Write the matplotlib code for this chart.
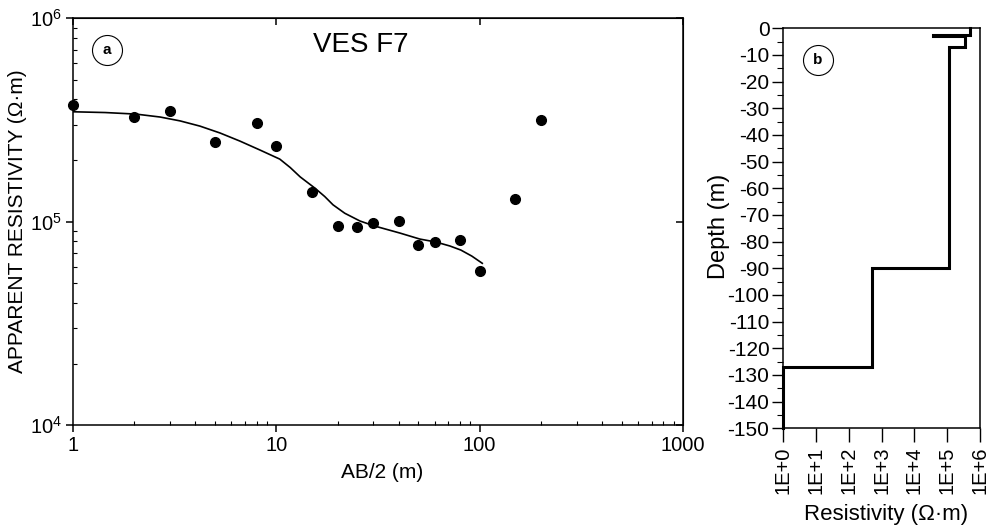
import matplotlib
matplotlib.use("Agg")
import matplotlib.pyplot as plt
import numpy as np
from matplotlib.ticker import LogLocator, FixedLocator, NullFormatter, MultipleLocator, FixedFormatter, NullLocator

plt.rcParams['font.family'] = ['Liberation Sans', 'DejaVu Sans']
plt.rcParams['mathtext.fontset'] = 'custom'
plt.rcParams['mathtext.rm'] = 'Liberation Sans'
plt.rcParams['mathtext.it'] = 'Liberation Sans:italic'
plt.rcParams['mathtext.bf'] = 'Liberation Sans:bold'
plt.rcParams['mathtext.default'] = 'regular'
plt.rcParams['axes.unicode_minus'] = False

# ---- Panel a: VES F7 sounding data ----
ab2 = [1, 2, 3, 5, 8, 10, 15, 20, 25, 30, 40, 50, 60, 80, 100, 150, 200]
rho_app = [374e3, 326e3, 350e3, 247e3, 307e3, 236e3, 140e3, 95.4e3, 94.4e3, 98.8e3,
           100.7e3, 76.9e3, 79.1e3, 81.2e3, 56.9e3, 129.7e3, 316e3]

# model (fitted) curve
curve_ab2 = [1, 1.44, 2.04, 2.68, 3.36, 4.21, 5.28, 6.62, 8.31, 10.4, 11.7, 13.1, 15.5,
             17.3, 19, 21.7, 25.8, 30.5, 40.5, 50.8, 60.9, 71.4, 80.8, 91.5, 103]
curve_rho = [347e3, 344e3, 338e3, 327e3, 313e3, 295e3, 273e3, 249e3, 225e3, 203e3,
             184.6e3, 166e3, 146e3, 132.9e3, 121e3, 110e3, 100.7e3, 95.1e3, 87.9e3,
             82.1e3, 79.4e3, 75.9e3, 72.5e3, 67.7e3, 62.4e3]

x_ticks_a = [1, 10, 100, 1000]
x_ticklabels_a = ["1", "10", "100", "1000"]
y_ticks_a = [1e4, 1e5, 1e6]
y_ticklabels_a = ["$10^4$", "$10^5$", "$10^6$"]

# ---- Panel b: layered model ----
layer_top = [0, 2.6, 2.9, 6.9, 90, 127]
layer_bottom = [2.6, 2.9, 6.9, 90, 127, 150]
layer_rho = [480e3, 38e3, 355e3, 113e3, 525, 1]

x_ticks_b = [1, 1e1, 1e2, 1e3, 1e4, 1e5, 1e6]
x_ticklabels_b = ["1E+0", "1E+1", "1E+2", "1E+3", "1E+4", "1E+5", "1E+6"]
y_ticks_b = list(range(0, -151, -10))

W, H = 989, 529
fig = plt.figure(figsize=(W / 100, H / 100), dpi=100)

def fx(px):
    return px / W

def fy(py):
    return 1 - py / H

# Panel a axes
axa = fig.add_axes([fx(73), fy(425), fx(683) - fx(73), fy(18.3) - fy(425)])
axa.set_xscale('log')
axa.set_yscale('log')
axa.set_xlim(1, 1000)
axa.set_ylim(1e4, 1e6)
axa.plot(curve_ab2, curve_rho, color='black', lw=1.2, zorder=2)
axa.plot(ab2, rho_app, 'o', color='black', ms=7, zorder=3, clip_on=False)

axa.xaxis.set_major_locator(FixedLocator(x_ticks_a))
axa.xaxis.set_major_formatter(FixedFormatter(x_ticklabels_a))
axa.yaxis.set_major_locator(FixedLocator(y_ticks_a))
axa.yaxis.set_major_formatter(FixedFormatter(y_ticklabels_a))
axa.xaxis.set_minor_locator(LogLocator(base=10, subs=np.arange(2, 10)))
axa.yaxis.set_minor_locator(LogLocator(base=10, subs=np.arange(2, 10)))
axa.xaxis.set_minor_formatter(NullFormatter())
axa.yaxis.set_minor_formatter(NullFormatter())
axa.tick_params(which='major', direction='out', length=5, width=1.1, labelsize=14.5, pad=3)
axa.tick_params(which='minor', direction='in', length=3, width=0.8)
for s in axa.spines.values():
    s.set_linewidth(1.1)

secx = axa.secondary_xaxis('top')
secx.xaxis.set_major_locator(FixedLocator(x_ticks_a))
secx.xaxis.set_minor_locator(NullLocator())
secx.tick_params(which='major', direction='in', length=5, width=1.1, labeltop=False)
secy = axa.secondary_yaxis('right')
secy.yaxis.set_major_locator(FixedLocator(y_ticks_a))
secy.yaxis.set_minor_locator(NullLocator())
secy.tick_params(which='major', direction='in', length=5, width=1.1, labelright=False)

axa.set_xlabel("AB/2 (m)", fontsize=15)
axa.xaxis.set_label_coords(0.507, -0.093)
axa.set_ylabel("APPARENT RESISTIVITY (\u03a9\u00b7m)", fontsize=15)
axa.yaxis.set_label_coords(-0.075, 0.5)

axa.text(0.472, 0.934, "VES F7", transform=axa.transAxes, fontsize=20,
         ha='center', va='center')
axa.plot([0.0552], [0.922], 'o', ms=21.6, mfc='none', mec='black', mew=0.8,
         transform=axa.transAxes, clip_on=False)
axa.text(0.0552, 0.922, "a", transform=axa.transAxes, fontsize=11,
         fontweight='bold', ha='center', va='center')

# Panel b axes
axb = fig.add_axes([fx(783.3), fy(428.3), fx(980) - fx(783.3), fy(28.3) - fy(428.3)])
axb.set_xscale('log')
axb.set_xlim(1, 1e6)
axb.set_ylim(-150, 0)

# staircase model
xs, ys = [], []
for top, bot, r in zip(layer_top, layer_bottom, layer_rho):
    xs += [r, r]
    ys += [-top, -bot]
axb.plot(xs, ys, color='black', lw=2.2, solid_joinstyle='miter', clip_on=False, zorder=3)

axb.xaxis.set_major_locator(FixedLocator(x_ticks_b))
axb.xaxis.set_major_formatter(FixedFormatter(x_ticklabels_b))
axb.xaxis.set_minor_locator(LogLocator(base=10, subs=np.arange(2, 10)))
axb.xaxis.set_minor_formatter(NullFormatter())
axb.yaxis.set_major_locator(FixedLocator(y_ticks_b))
axb.yaxis.set_minor_locator(MultipleLocator(5))
axb.tick_params(axis='x', which='major', direction='out', length=10, width=1.0,
                labelsize=14.5, labelrotation=90, pad=3)
axb.tick_params(axis='x', which='minor', direction='out', length=5, width=0.8)
axb.tick_params(axis='y', which='major', direction='out', length=8, width=1.0,
                labelsize=15, pad=2)
axb.tick_params(axis='y', which='minor', direction='out', length=4, width=0.8)
for s in axb.spines.values():
    s.set_linewidth(1.1)

axb.set_xlabel("Resistivity (\u03a9\u00b7m)", fontsize=16)
axb.xaxis.set_label_coords(0.52, -0.19)
axb.set_ylabel("Depth (m)", fontsize=17)
axb.yaxis.set_label_coords(-0.27, 0.506)

axb.plot([0.1744], [0.921], 'o', ms=21.6, mfc='none', mec='black', mew=0.8,
         transform=axb.transAxes, clip_on=False)
axb.text(0.1744, 0.921, "b", transform=axb.transAxes, fontsize=11,
         fontweight='bold', ha='center', va='center')

fig.savefig("out.png", dpi=100, facecolor='white')
